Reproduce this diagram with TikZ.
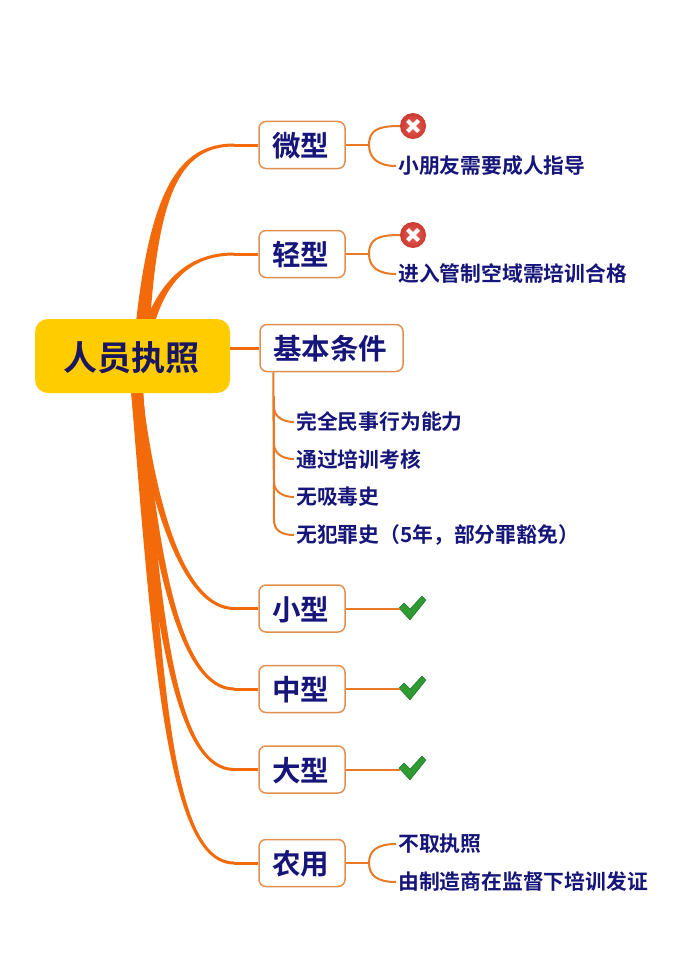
\documentclass[tikz,border=0pt]{standalone}
\usepackage{fontspec}
\usetikzlibrary{calc}
\newfontfamily\cjk[BoldFont={Noto Sans CJK SC Bold}]{Noto Sans CJK SC Bold}
\definecolor{brorange}{HTML}{F26A0A}
\definecolor{boxline}{HTML}{E09050}
\definecolor{subline}{HTML}{E87A25}
\definecolor{ink}{HTML}{15157A}
\definecolor{rootink}{HTML}{1A1660}
\definecolor{rootfill}{HTML}{FFCC00}
\definecolor{tickgreen}{HTML}{2E9A30}
\definecolor{tickdark}{HTML}{1F7A25}
\definecolor{crossred}{HTML}{CC3A30}
\definecolor{crosslight}{HTML}{E8605A}
\tikzset{
  x=1pt,y=-1pt,
  rootbox/.style={fill=rootfill,rounded corners=13pt,minimum width=195pt,minimum height=74pt,inner sep=0pt,text=rootink,font=\cjk\fontsize{34}{34}\selectfont},
  catbox/.style={draw=boxline,line width=1.5pt,fill=white,rounded corners=7pt,minimum height=47pt,inner sep=0pt,text=ink,font=\cjk\fontsize{28.5}{28.5}\selectfont},
  leaf/.style={anchor=west,inner sep=2pt,text=ink,font=\cjk\fontsize{20.8}{21}\selectfont},
  subconn/.style={draw=subline,line width=2pt,fill=none},
  branchfill/.style={fill=brorange,draw=none},
  branchend/.style={draw=brorange,line width=3pt},
  iconbox/.style={minimum size=26pt,inner sep=0pt},
}
\newcommand\catlabel[1]{\hspace*{-3pt}\raisebox{-11.5pt}[0pt][0pt]{#1}}
% start x, start y, c1x, c1y, c2x, c2y, target node, half-width at start, side (1 lower, -1 upper)
\newcommand\taperbranch[9]{%
  \coordinate (e) at ($(#7.west)+(-24,0)$);
  \fill[branchfill] (#1-#8,#2) .. controls (#3-#8*0.6,#4) and (#5-1.5,#6+#9*1.5) .. ($(e)+(0,#9*1.5)$)
     -- ($(e)+(0,-#9*1.5)$) .. controls (#5+1.5,#6-#9*1.5) and (#3+#8*0.6,#4) .. (#1+#8,#2) -- cycle;
  \draw[branchend] (e) -- (#7.west);
}
\newcommand\crossicon[2]{%
  \node[iconbox,circle,inner color=crosslight,outer color=crossred] (#1) at (#2) {};
  \draw[white,line width=4pt] ($(#1.center)+(-5.5,-5.5)$) -- ($(#1.center)+(5.5,5.5)$)
    ($(#1.center)+(-5.5,5.5)$) -- ($(#1.center)+(5.5,-5.5)$);
}
\newcommand\tickicon[2]{%
  \node[iconbox] (#1) at (#2) {};
  \begin{scope}[shift={(#1.center)}]
    \fill[tickgreen,draw=tickdark,line width=.5pt,line join=round] (-14,0) -- (-3,12) -- (13,-8) -- (9,-12) -- (-3,1) -- (-9,-5) -- cycle;
  \end{scope}
}
\begin{document}
\begin{tikzpicture}
\useasboundingbox (0,0) rectangle (689,955);
\fill[white] (0,0) rectangle (689,955);

\node[catbox,minimum width=86pt,text width=86pt,align=center] (wei) at (302,145) {\catlabel{微型}};
\node[catbox,minimum width=86pt,text width=86pt,align=center] (qing) at (302,254) {\catlabel{轻型}};
\node[catbox,minimum width=143pt,text width=143pt,align=center] (jiben) at (331.5,348) {\catlabel{基本条件}};
\node[catbox,minimum width=86pt,text width=86pt,align=center] (xiao) at (302,608.5) {\catlabel{小型}};
\node[catbox,minimum width=86pt,text width=86pt,align=center] (zhong) at (302,689) {\catlabel{中型}};
\node[catbox,minimum width=86pt,text width=86pt,align=center] (da) at (302,769.5) {\catlabel{大型}};
\node[catbox,minimum width=86pt,text width=86pt,align=center] (nong) at (302,863) {\catlabel{农用}};

\taperbranch{143}{322}{155}{190}{180}{145}{wei}{7}{-1}
\taperbranch{150}{322}{165}{280}{190}{254}{qing}{5}{-1}
\taperbranch{137}{390}{153}{510}{185}{608.5}{xiao}{5}{1}
\taperbranch{137}{390}{155}{560}{180}{689}{zhong}{5.5}{1}
\taperbranch{137}{390}{157}{620}{175}{769.5}{da}{6}{1}
\taperbranch{137}{390}{158}{680}{170}{863}{nong}{6}{1}

\node[rootbox,text width=195pt,align=center] (root) at (132.5,356) {\hspace*{-2pt}\raisebox{-14.5pt}[0pt][0pt]{人员执照}};
\draw[branchend] (root.east |- jiben.west) -- (jiben.west);

% micro
\crossicon{x1}{413,126}
\node[leaf] (t1) at (396,166) {小朋友需要成人指导};
\draw[subconn] (wei.east) -- (369,145);
\draw[subconn] (x1.west) .. controls (378,126) and (369,130) .. (369,145) .. controls (369,158) and (378,166) .. (t1.west);
% light
\crossicon{x2}{413,235}
\node[leaf] (t2) at (396,274) {进入管制空域需培训合格};
\draw[subconn] (qing.east) -- (369,254);
\draw[subconn] (x2.west) .. controls (378,235) and (369,239) .. (369,254) .. controls (369,267) and (378,274) .. (t2.west);

% basic conditions
\node[leaf] (b1) at (294,422) {完全民事行为能力};
\node[leaf] (b2) at (294,459) {通过培训考核};
\node[leaf] (b3) at (294,497) {无吸毒史};
\node[leaf] (b4) at (294,535) {无犯罪史（5年，部分罪豁免）};
\coordinate (stem) at ($(jiben.south west)+(14,0)$);
\coordinate (stemthick) at (274,396);
\draw[subconn] (stem) -- (274,520) .. controls (274,530) and (281,535) .. (b4.west);
\draw[draw=subline,line width=2.8pt] (stemthick) -- (274,490);
\draw[subconn] (274,407) .. controls (274,416) and (282,422) .. (b1.west);
\draw[subconn] (274,444) .. controls (274,453) and (282,459) .. (b2.west);
\draw[subconn] (274,482) .. controls (274,491) and (282,497) .. (b3.west);

% ticks
\tickicon{c1}{413,608}
\tickicon{c2}{413,688}
\tickicon{c3}{413,768}
\draw[subconn] (xiao.east) -- (c1.west |- xiao.east);
\draw[subconn] (zhong.east) -- (c2.west |- zhong.east);
\draw[subconn] (da.east) -- (c3.west |- da.east);

% agricultural
\node[leaf] (n1) at (396,844) {不取执照};
\node[leaf] (n2) at (396,882) {由制造商在监督下培训发证};
\draw[subconn] (nong.east) -- (369,863);
\draw[subconn] (n1.west) .. controls (378,844) and (369,850) .. (369,863) .. controls (369,876) and (378,882) .. (n2.west);
\end{tikzpicture}
\end{document}
